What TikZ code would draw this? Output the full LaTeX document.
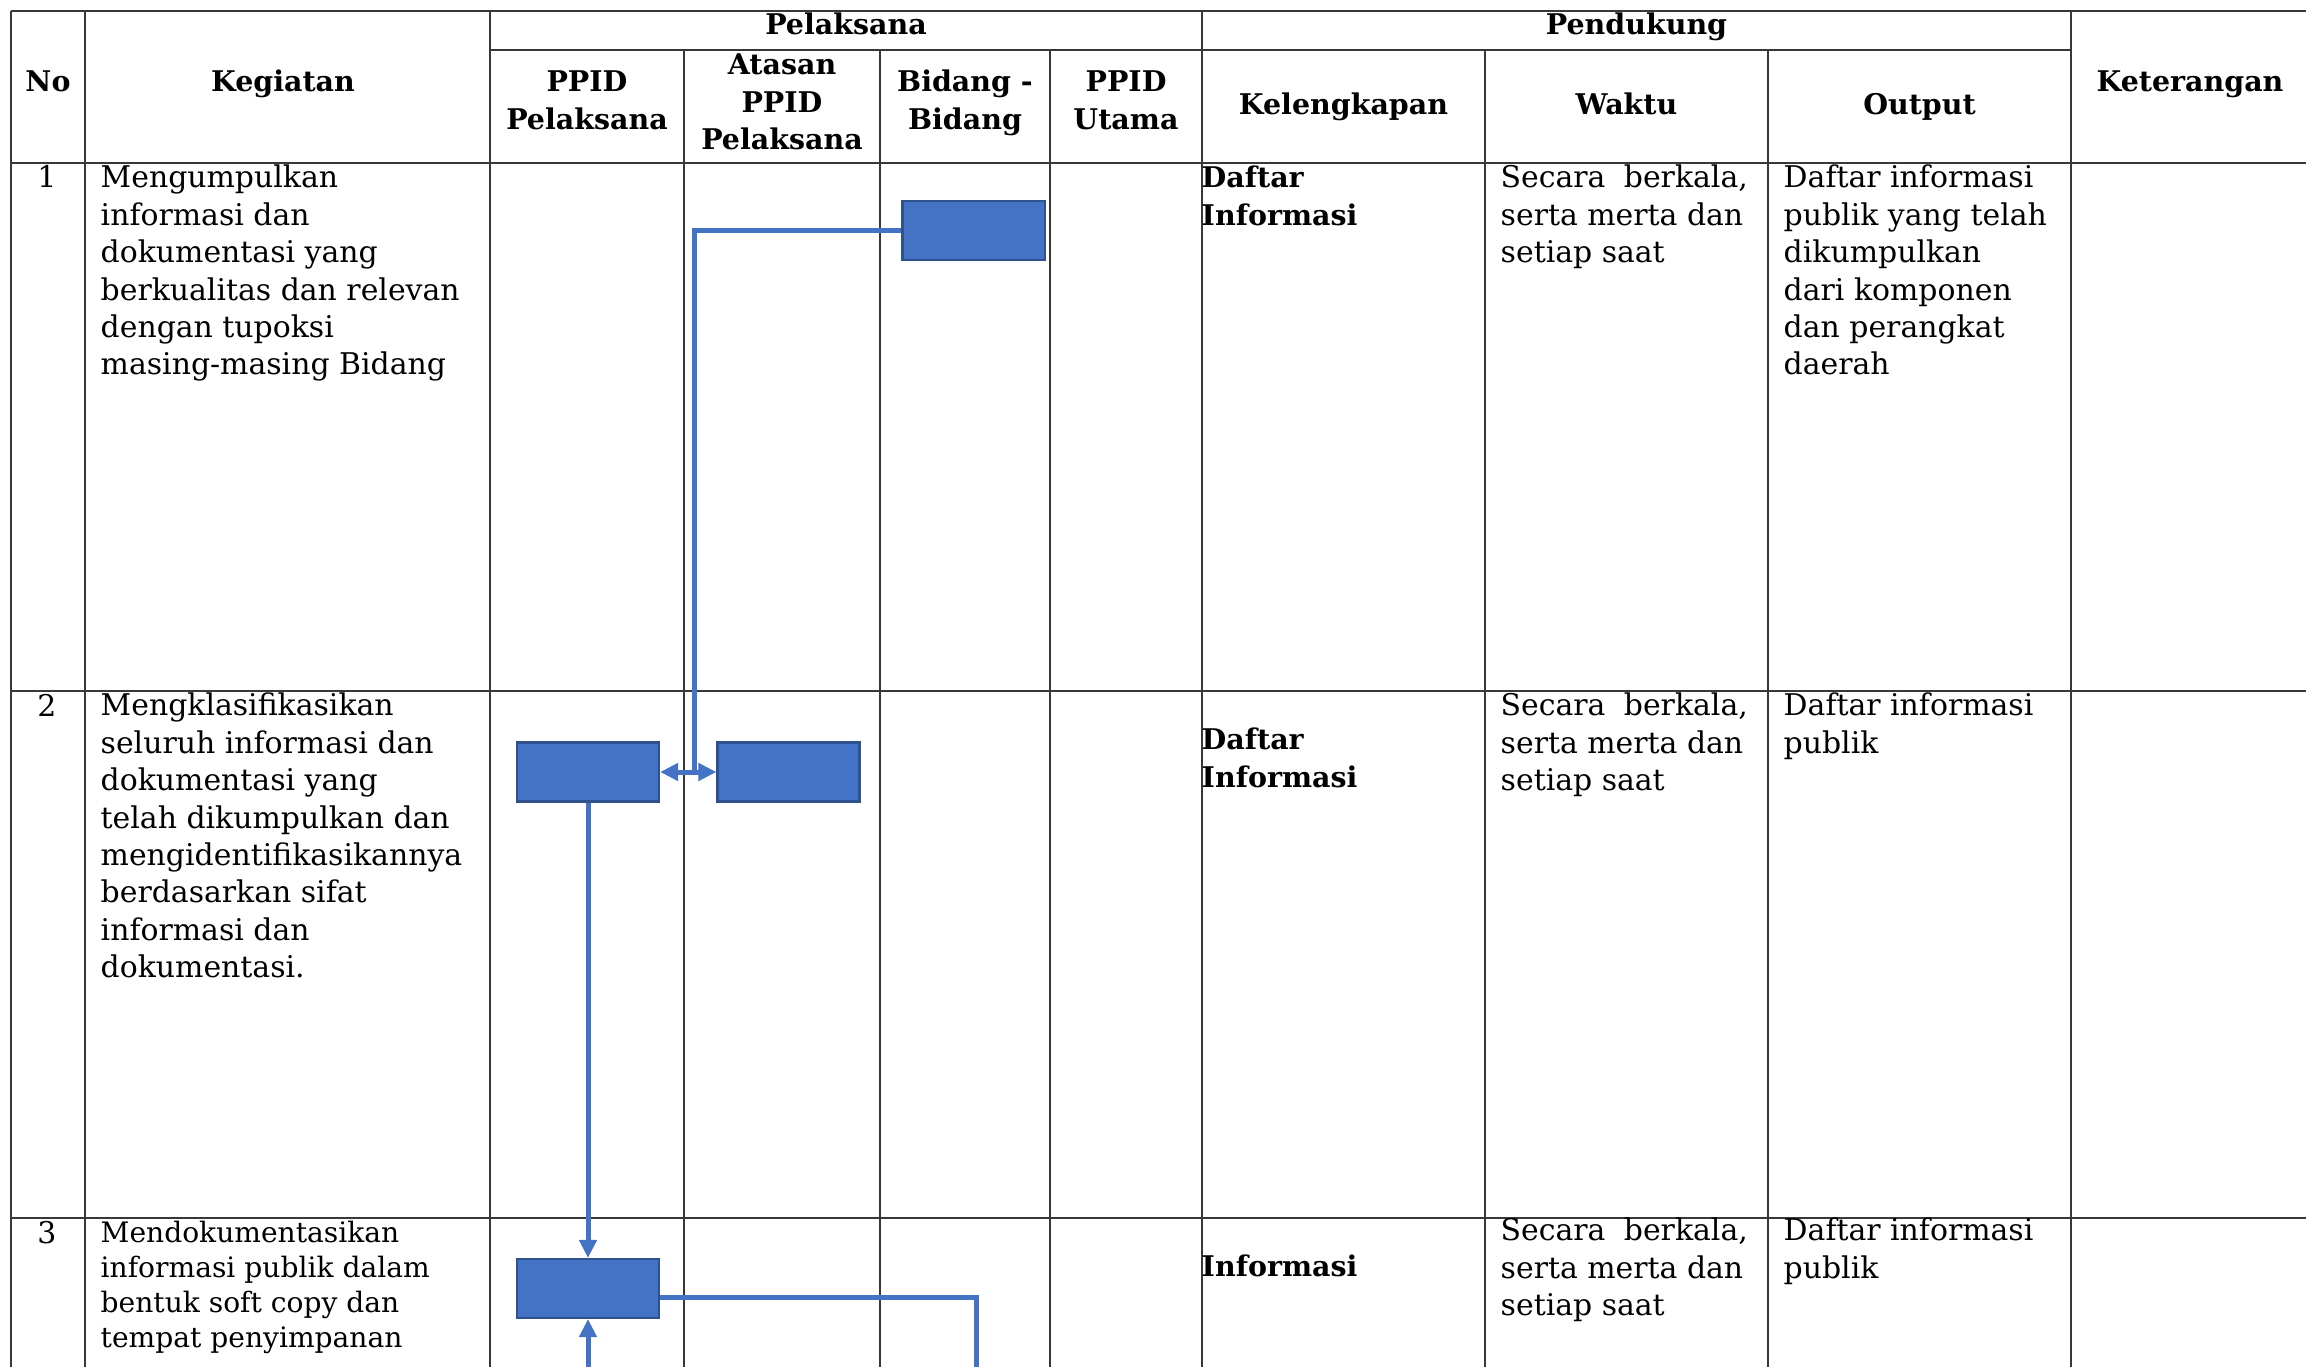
\documentclass[tikz,border=0pt]{standalone}
\usepackage{fontspec}
\setmainfont{DejaVu Serif}
\usetikzlibrary{arrows.meta,calc}
\definecolor{boxfill}{HTML}{4472C4}
\definecolor{boxline}{HTML}{2F528F}
\newcommand{\rowtxt}{\fontsize{8.5}{10.64}\selectfont}
\newcommand{\hdtxt}{\fontsize{8.1}{10.64}\selectfont\bfseries}
\newcommand{\smtxt}{\fontsize{8.0}{9.87}\selectfont}
\newcommand{\wkt}{\makebox[2.47cm][s]{Secara berkala,}\\serta merta dan\\setiap saat}
\begin{document}
\begin{tikzpicture}[x=0.01cm,y=-0.01cm,
  grid/.style={draw=black!78, line width=0.6pt},
  hd/.style={font=\hdtxt, anchor=base, align=center, inner sep=0pt},
  cell/.style={font=\rowtxt, anchor=base west, align=left, inner sep=0pt},
  bcell/.style={font=\hdtxt, anchor=base west, align=left, inner sep=0pt},
  num/.style={font=\rowtxt, anchor=base, inner sep=0pt},
  flowbox/.style={draw=boxline, fill=boxfill, line width=0.6pt, minimum width=1.42cm, minimum height=0.59cm, inner sep=0pt},
  conn/.style={draw=boxfill, line width=1.42pt},
  tip/.tip={Triangle[width=0.17cm,length=0.18cm]}
]
\useasboundingbox (0,0) rectangle (2306,1367);
% table rules
\draw[grid] (11,11) -- (2306,11);
\draw[grid] (490,50) -- (2071,50);
\draw[grid] (11,163) -- (2306,163);
\draw[grid] (11,691) -- (2306,691);
\draw[grid] (11,1218) -- (2306,1218);
\foreach \x in {11,85,490,1202,2071} \draw[grid] (\x,11) -- (\x,1367);
\foreach \x in {684,880,1050,1485,1768} \draw[grid] (\x,50) -- (\x,1367);
% header (base anchor = baseline of the last line)
\node[hd] (hPel) at (846,35) {Pelaksana};
\node[hd] (hPen) at (1636.5,35) {Pendukung};
\node[hd] (hNo) at (48,92) {No};
\node[hd] (hKeg) at (283,92) {Kegiatan};
\node[hd] (hPPID) at (587,129.4) {PPID\\Pelaksana};
\node[hd] (hAtasan) at (782,149.8) {Atasan\\PPID\\Pelaksana};
\node[hd] (hBidang) at (965,129.4) {Bidang -\\Bidang};
\node[hd] (hUtama) at (1126,129.4) {PPID\\Utama};
\node[hd] (hKel) at (1343.5,115) {Kelengkapan};
\node[hd] (hWaktu) at (1626.5,115) {Waktu};
\node[hd] (hOutput) at (1919.5,115) {Output};
\node[hd] (hKet) at (2190,92) {Keterangan};
% row 1
\node[num] (no1) at (47,188) {1};
\node[cell] (keg1) at (100,375) {Mengumpulkan\\informasi dan\\dokumentasi yang\\berkualitas dan relevan\\dengan tupoksi\\masing-masing Bidang};
\node[bcell] (kel1) at (1201,225.4) {Daftar\\Informasi};
\node[cell] (wak1) at (1500,262.8) {\wkt};
\node[cell] (out1) at (1783,375) {Daftar informasi\\publik yang telah\\dikumpulkan\\dari komponen\\dan perangkat\\daerah};
% row 2
\node[num] (no2) at (47,716) {2};
\node[cell] (keg2) at (100,977.8) {Mengklasifikasikan\\seluruh informasi dan\\dokumentasi yang\\telah dikumpulkan dan\\mengidentifikasikannya\\berdasarkan sifat\\informasi dan\\dokumentasi.};
\node[bcell] (kel2) at (1201,787.4) {Daftar\\Informasi};
\node[cell] (wak2) at (1500,790.8) {\wkt};
\node[cell] (out2) at (1783,753.4) {Daftar informasi\\publik};
% row 3
\node[num] (no3) at (47,1243) {3};
\node[cell, font=\smtxt] (keg3) at (100,1347.1) {Mendokumentasikan\\informasi publik dalam\\bentuk soft copy dan\\tempat penyimpanan};
\node[bcell] (kel3) at (1201,1276) {Informasi};
\node[cell] (wak3) at (1500,1315.8) {\wkt};
\node[cell] (out3) at (1783,1278.4) {Daftar informasi\\publik};
% flow boxes
\node[flowbox] (boxA) at (973.5,230.5) {};
\node[flowbox] (boxB) at (588,772) {};
\node[flowbox] (boxC) at (788.5,772) {};
\node[flowbox] (boxD) at (588,1288.5) {};
% connectors
\coordinate (jn) at (694,772);
\coordinate (endR) at (976,1367);
\coordinate (endB) at (588,1367);
\draw[conn] (boxA.west) -| (jn);
\draw[conn,tip-tip] (boxB.east) -- (boxC.west);
\draw[conn,-tip] (boxB.south) -- (boxD.north);
\draw[conn] ($(boxD.south east)!0.35!(boxD.north east)$) -| (endR);
\draw[conn,-tip] (endB) -- (boxD.south);
\end{tikzpicture}
\end{document}
